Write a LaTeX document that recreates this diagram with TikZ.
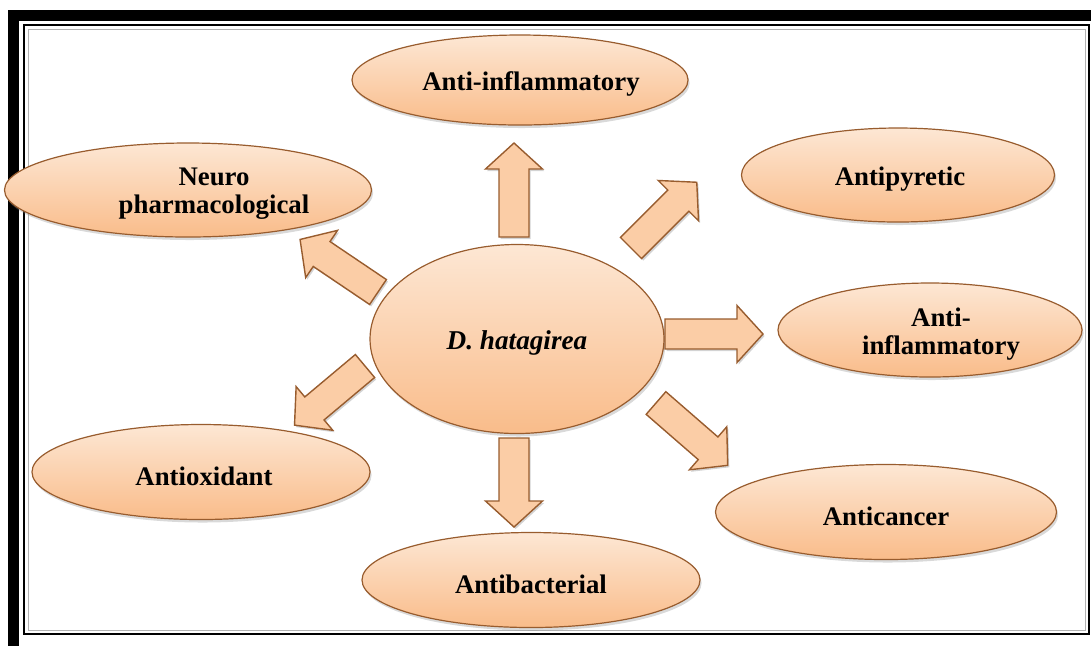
\documentclass[tikz,border=0pt]{standalone}
\usepackage{fontspec}
\setmainfont{Liberation Serif}
\usetikzlibrary{shapes.geometric,shadows}
\definecolor{peachtop}{RGB}{253,231,212}
\definecolor{peachbot}{RGB}{249,188,138}
\definecolor{peachline}{RGB}{152,92,46}
\definecolor{arrowfill}{RGB}{251,205,166}
\tikzset{
  bubble/.style={ellipse, draw=peachline, line width=0.6pt, top color=peachtop, bottom color=peachbot,
    drop shadow={opacity=0.3, shadow xshift=0.8pt, shadow yshift=-1.5pt}, inner sep=0pt},
  effect/.style={font=\bfseries\fontsize{13.4}{14}\selectfont, align=center, yshift=-2pt},
  blockarrow/.pic={
    \draw[draw=peachline, line width=0.7pt, fill=arrowfill,
      drop shadow={opacity=0.35, shadow xshift=0.8pt, shadow yshift=-1pt}]
      (0,-15) -- ({#1-26},-15) -- ({#1-26},-28.5) -- (#1,0) -- ({#1-26},28.5) -- ({#1-26},15) -- (0,15) -- cycle;
  }
}
\begin{document}
\begin{tikzpicture}[x=0.5pt, y=-0.5pt]
  \useasboundingbox (0,0) rectangle (1091,645);
  % frame
  \draw[line width=5.5pt] (13.5,15.5) rectangle (1100,652);
  \draw[line width=1.2pt] (24,25) rectangle (1089,634);
  \draw[gray!60, line width=0.5pt] (28,29.5) rectangle (1085,630);
  % bubbles
  \node[bubble, minimum width=147pt, minimum height=94.5pt] (plant) at (517,339) {};
  \node[bubble, minimum width=168pt, minimum height=45pt] (inflamTop) at (520,80) {};
  \node[bubble, minimum width=183.5pt, minimum height=47pt] (neuro) at (188,190) {};
  \node[bubble, minimum width=156.5pt, minimum height=47pt] (pyretic) at (898,175) {};
  \node[bubble, minimum width=152pt, minimum height=47pt] (inflamRight) at (930,330) {};
  \node[bubble, minimum width=169pt, minimum height=47.5pt] (oxidant) at (201,472) {};
  \node[bubble, minimum width=170.5pt, minimum height=47.5pt] (cancer) at (886,512) {};
  \node[bubble, minimum width=169pt, minimum height=47.5pt] (bacterial) at (531,580) {};
  % texts
  \node[effect, font=\bfseries\itshape\fontsize{13.6}{14}\selectfont] at (plant) {D. hatagirea};
  \node[effect] at ([xshift=5.5pt]inflamTop.center) {Anti-inflammatory};
  \node[effect] at ([xshift=13pt]neuro.center) {Neuro\\pharmacological};
  \node[effect] at ([xshift=1pt]pyretic.center) {Antipyretic};
  \node[effect] at ([xshift=5.5pt]inflamRight.center) {Anti-\\inflammatory};
  \node[effect] at ([xshift=1.5pt]oxidant.center) {Antioxidant};
  \node[effect] at (cancer) {Anticancer};
  \node[effect] at (bacterial) {Antibacterial};
  % arrows
  \pic[rotate=90] at (514,237) {blockarrow=94};
  \pic[rotate=-90] at (514,438) {blockarrow=89};
  \pic at (665,334) {blockarrow=98};
  \pic[rotate=45] at (631,248) {blockarrow=93};
  \pic[rotate=146] at (378,292) {blockarrow=94};
  \pic[rotate=220] at (365,366) {blockarrow=92};
  \pic[rotate=-41] at (656,403) {blockarrow=95};
\end{tikzpicture}
\end{document}
